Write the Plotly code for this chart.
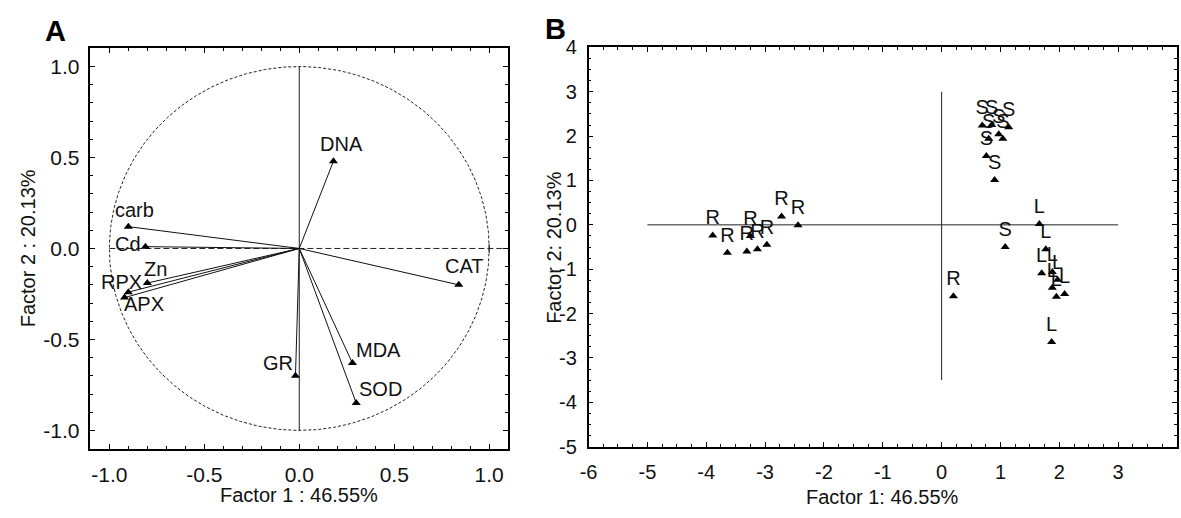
import numpy as np
import plotly.graph_objects as go

FONT = "Liberation Sans, Arial, Helvetica, sans-serif"
INK = "#111111"

# ---------------- Panel A: variable loadings on factors 1 and 2 ----------------
var_names = ["DNA", "carb", "Cd", "Zn", "RPX", "APX", "CAT", "MDA", "SOD", "GR"]
load_f1 = [0.18, -0.90, -0.81, -0.80, -0.92, -0.90, 0.84, 0.28, 0.30, -0.02]
load_f2 = [0.48, 0.12, 0.01, -0.19, -0.27, -0.24, -0.20, -0.63, -0.85, -0.70]

# label placement relative to each vector tip (pixels: right, up)
label_offset = {
    "DNA": (8, 17), "carb": (6, 17), "Cd": (-17, 3), "Zn": (8, 14),
    "RPX": (-3, 16), "APX": (16, -12), "CAT": (6, 19), "MDA": (26, 13),
    "SOD": (24, 14), "GR": (-17, 13),
}

a_ticks = [-1.0, -0.5, 0.0, 0.5, 1.0]
a_ticktext = ["-1.0", "-0.5", "0.0", "0.5", "1.0"]

# ---------------- Panel B: sample scores on factors 1 and 2 ----------------
R_f1 = [-3.89, -3.64, -3.31, -3.25, -3.13, -2.97, -2.72, -2.44, 0.20]
R_f2 = [-0.24, -0.63, -0.60, -0.25, -0.55, -0.45, 0.19, -0.01, -1.61]
S_f1 = [0.69, 0.85, 1.14, 0.80, 0.97, 1.04, 0.76, 0.90, 1.08]
S_f2 = [2.24, 2.25, 2.20, 1.94, 2.04, 1.94, 1.55, 1.01, -0.50]
L_f1 = [1.66, 1.77, 1.88, 1.70, 1.97, 1.88, 1.95, 2.09, 1.87]
L_f2 = [0.02, -0.55, -1.06, -1.09, -1.24, -1.42, -1.62, -1.56, -2.64]

b_xticks = list(range(-6, 5))
b_yticks = list(range(-5, 5))
b_xticktext = [str(v) for v in b_xticks]
b_yticktext = [str(v) for v in b_yticks]

W, H = 1181, 518
fig = go.Figure()

# unit circle (dashed)
theta = np.linspace(0, 2 * np.pi, 721)
fig.add_trace(go.Scatter(x=np.cos(theta), y=np.sin(theta), mode="lines",
                         line=dict(color="#222222", width=1, dash="3px,2px"),
                         hoverinfo="skip", showlegend=False, xaxis="x", yaxis="y"))
# horizontal dashed axis and vertical solid axis
fig.add_trace(go.Scatter(x=[-1.0, 1.1], y=[0, 0], mode="lines",
                         line=dict(color="#222222", width=1, dash="6px,3px"),
                         hoverinfo="skip", showlegend=False, xaxis="x", yaxis="y"))
fig.add_trace(go.Scatter(x=[1.0, 1.0], y=[-0.025, 0.025], mode="lines",
                         line=dict(color="#222222", width=1),
                         hoverinfo="skip", showlegend=False, xaxis="x", yaxis="y"))
fig.add_trace(go.Scatter(x=[0, 0], y=[-1.0, 1.0], mode="lines",
                         line=dict(color="#222222", width=1),
                         hoverinfo="skip", showlegend=False, xaxis="x", yaxis="y"))

# loading vectors
vx, vy = [], []
for fx, fy in zip(load_f1, load_f2):
    vx += [0, fx, None]
    vy += [0, fy, None]
fig.add_trace(go.Scatter(x=vx, y=vy, mode="lines",
                         line=dict(color="#111111", width=1),
                         hoverinfo="skip", showlegend=False, xaxis="x", yaxis="y"))
fig.add_trace(go.Scatter(x=load_f1, y=load_f2, mode="markers",
                         marker=dict(symbol="triangle-up", size=8, color="black"),
                         text=var_names, showlegend=False, xaxis="x", yaxis="y"))

annotations = []
for name, fx, fy in zip(var_names, load_f1, load_f2):
    dx, dy = label_offset[name]
    annotations.append(dict(x=fx, y=fy, xref="x", yref="y", text=name,
                            showarrow=False, xshift=dx, yshift=dy,
                            font=dict(family=FONT, size=20, color=INK)))

# panel B reference lines
fig.add_trace(go.Scatter(x=[-5, 3], y=[0, 0], mode="lines",
                         line=dict(color="#222222", width=1),
                         hoverinfo="skip", showlegend=False, xaxis="x2", yaxis="y2"))
fig.add_trace(go.Scatter(x=[0, 0], y=[-3.5, 3], mode="lines",
                         line=dict(color="#222222", width=1),
                         hoverinfo="skip", showlegend=False, xaxis="x2", yaxis="y2"))

for grp, gx, gy in (("R", R_f1, R_f2), ("S", S_f1, S_f2), ("L", L_f1, L_f2)):
    fig.add_trace(go.Scatter(x=gx, y=gy, mode="markers+text", name=grp,
                             text=[grp] * len(gx), textposition="top center",
                             textfont=dict(family=FONT, size=20, color=INK),
                             marker=dict(symbol="triangle-up", size=8, color="black"),
                             showlegend=False, xaxis="x2", yaxis="y2"))


def frame_axis(domain, rng, vals, text, minor_step, font_size, standoff, anchor):
    return dict(domain=domain, range=rng, anchor=anchor,
                tickmode="array", tickvals=vals, ticktext=text,
                showline=True, linecolor="black", linewidth=1.5, mirror="ticks",
                ticks="inside", ticklen=5, tickwidth=1.2, tickcolor="black",
                minor=dict(tick0=0, dtick=minor_step, ticks="inside", ticklen=3,
                           tickwidth=1, tickcolor="black", showgrid=False),
                showgrid=False, zeroline=False, ticklabelstandoff=standoff,
                tickfont=dict(family=FONT, size=font_size, color=INK))


# frame geometry in pixels
ax_a = dict(l=82, r=503, t=39, b=457)
ax_b = dict(l=584, r=1177, t=38, b=455)

fig.update_layout(
    width=W, height=H, autosize=False,
    margin=dict(l=0, r=0, t=0, b=0),
    paper_bgcolor="white", plot_bgcolor="white",
    xaxis=frame_axis([ax_a["l"] / W, ax_a["r"] / W], [-1.1, 1.1], a_ticks, a_ticktext,
                     0.1, 21, 6, "y"),
    yaxis=frame_axis([1 - ax_a["b"] / H, 1 - ax_a["t"] / H], [-1.1, 1.1], a_ticks, a_ticktext,
                     0.1, 21, 5, "x"),
    xaxis2=frame_axis([ax_b["l"] / W, ax_b["r"] / W], [-6, 4], b_xticks, b_xticktext,
                      0.25, 20, 7, "y2"),
    yaxis2=frame_axis([1 - ax_b["b"] / H, 1 - ax_b["t"] / H], [-5, 4], b_yticks, b_yticktext,
                      0.25, 20, 6, "x2"),
)

# axis titles and panel letters
title_font = dict(family=FONT, size=20, color=INK)
annotations += [
    dict(x=(ax_a["l"] + ax_a["r"]) / 2 / W, y=1 - 505 / H, xref="paper", yref="paper",
         text="Factor 1 : 46.55%", showarrow=False, font=title_font,
         xanchor="center", yanchor="middle"),
    dict(x=20 / W, y=1 - (ax_a["t"] + ax_a["b"]) / 2 / H, xref="paper", yref="paper",
         text="Factor 2 : 20.13%", showarrow=False, font=title_font, textangle=-90,
         xanchor="center", yanchor="middle"),
    dict(x=(ax_b["l"] + ax_b["r"]) / 2 / W, y=1 - 508 / H, xref="paper", yref="paper",
         text="Factor 1: 46.55%", showarrow=False, font=title_font,
         xanchor="center", yanchor="middle"),
    dict(x=549 / W, y=1 - (ax_b["t"] + ax_b["b"]) / 2 / H, xref="paper", yref="paper",
         text="Factor 2: 20.13%", showarrow=False, font=title_font, textangle=-90,
         xanchor="center", yanchor="middle"),
    dict(x=47 / W, y=1 - 21 / H, xref="paper", yref="paper", text="<b>A</b>",
         showarrow=False, font=dict(family=FONT, size=29, color="black"),
         xanchor="center", yanchor="middle"),
    dict(x=551 / W, y=1 - 19 / H, xref="paper", yref="paper", text="<b>B</b>",
         showarrow=False, font=dict(family=FONT, size=29, color="black"),
         xanchor="center", yanchor="middle"),
]
fig.update_layout(annotations=annotations)

fig.write_html("out.html")
